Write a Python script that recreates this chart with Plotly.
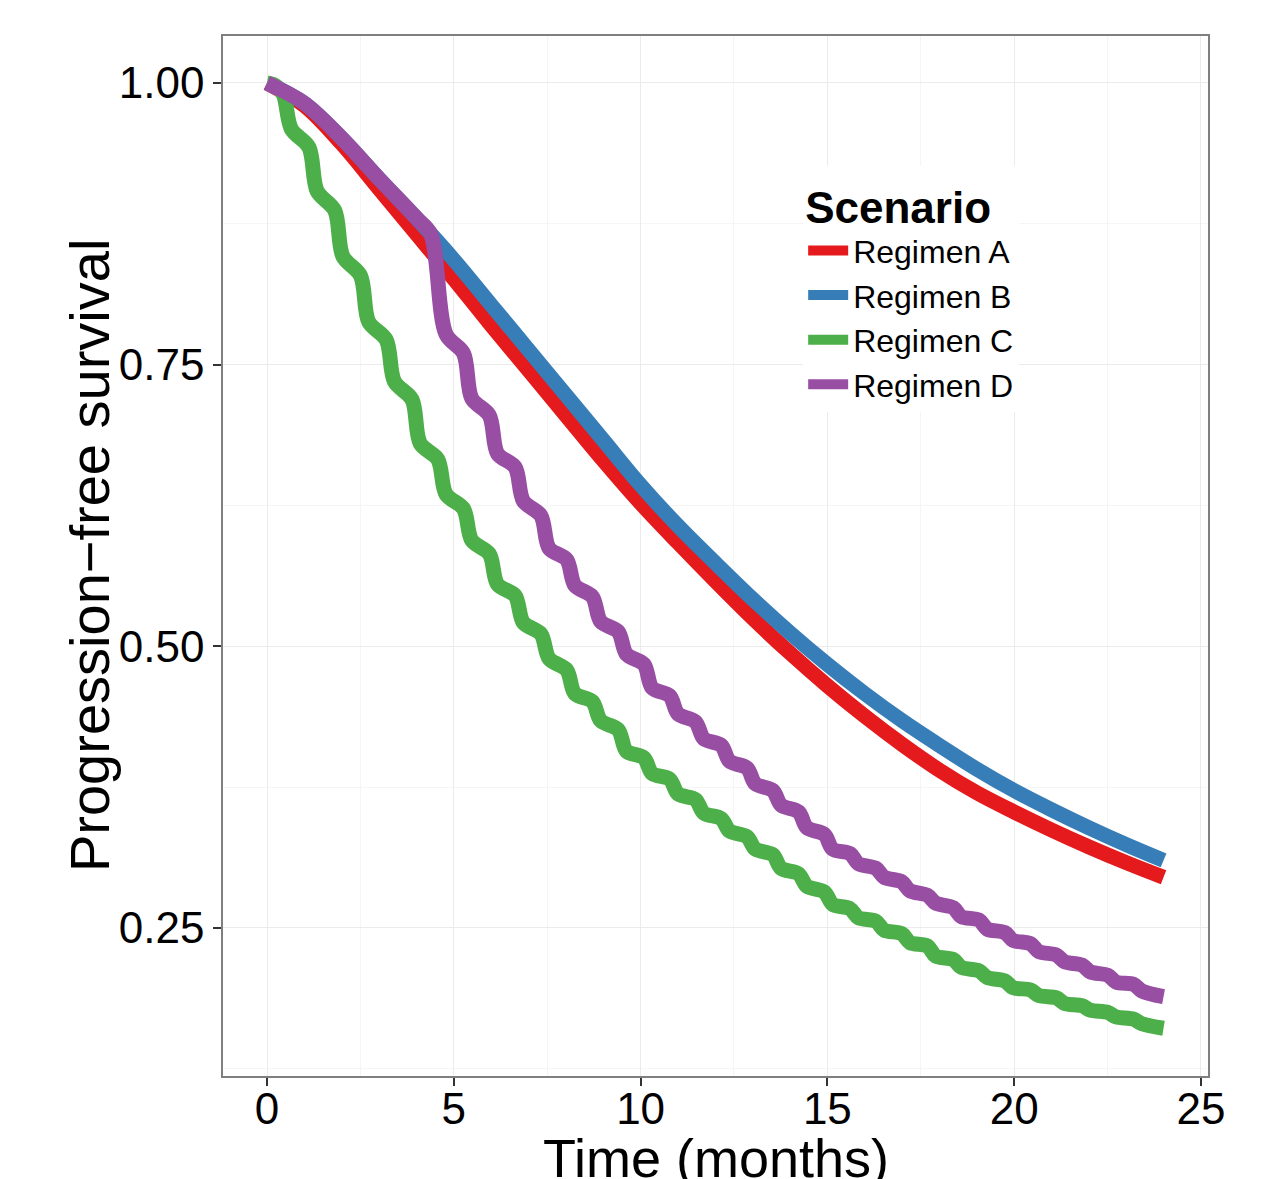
import plotly.graph_objects as go

# smooth regimens at whole months
months = [0, 1, 2, 3, 4, 5, 6, 7, 8, 9, 10, 11, 12, 13, 14, 15, 16, 17, 18, 19, 20, 21, 22, 23, 24]
regimen_a = [1.000, 0.980, 0.946, 0.906, 0.866, 0.826, 0.785, 0.745, 0.705, 0.665, 0.627, 0.592, 0.558,
             0.525, 0.494, 0.465, 0.438, 0.413, 0.390, 0.370, 0.353, 0.337, 0.322, 0.308, 0.295]
regimen_b = [1.000, 0.982, 0.951, 0.915, 0.880, 0.843, 0.803, 0.763, 0.723, 0.683, 0.643, 0.607, 0.574,
             0.542, 0.512, 0.484, 0.458, 0.434, 0.412, 0.391, 0.372, 0.355, 0.339, 0.324, 0.310]

# stepped regimens: points at the top and bottom of each cycle drop
time_c = [0, 0.2, 0.43, 0.65, 1.12, 1.34, 1.81, 2.03, 2.50, 2.72, 3.19, 3.41, 3.88, 4.10, 4.57, 4.79,
          5.26, 5.48, 5.95, 6.17, 6.64, 6.86, 7.33, 7.55, 8.02, 8.24, 8.71, 8.93, 9.40, 9.62, 10.09, 10.31,
          10.78, 11.00, 11.47, 11.69, 12.16, 12.38, 12.85, 13.07, 13.54, 13.76, 14.23, 14.45, 14.92, 15.14,
          15.61, 15.83, 16.30, 16.52, 16.99, 17.21, 17.68, 17.90, 18.37, 18.59, 19.06, 19.28, 19.75, 19.97,
          20.44, 20.66, 21.13, 21.35, 21.82, 22.04, 22.51, 22.73, 23.20, 23.42, 24.0]
regimen_c = [1.000, 0.998, 0.990, 0.959, 0.943, 0.904, 0.887, 0.846, 0.829, 0.788, 0.772, 0.735, 0.719,
             0.680, 0.666, 0.635, 0.622, 0.594, 0.582, 0.555, 0.545, 0.521, 0.511, 0.489, 0.479, 0.458,
             0.451, 0.434, 0.426, 0.407, 0.401, 0.387, 0.382, 0.369, 0.364, 0.352, 0.347, 0.336, 0.331,
             0.320, 0.315, 0.303, 0.298, 0.287, 0.282, 0.271, 0.267, 0.259, 0.256, 0.248, 0.245, 0.237,
             0.234, 0.225, 0.222, 0.215, 0.212, 0.206, 0.203, 0.197, 0.195, 0.190, 0.188, 0.183, 0.181,
             0.177, 0.175, 0.171, 0.169, 0.165, 0.161]

time_d = [0, 1, 2, 3, 4, 4.38, 4.79, 5.26, 5.48, 5.95, 6.17, 6.64, 6.86, 7.33, 7.55, 8.02, 8.24, 8.71,
          8.93, 9.40, 9.62, 10.09, 10.31, 10.78, 11.00, 11.47, 11.69, 12.16, 12.38, 12.85, 13.07, 13.54,
          13.76, 14.23, 14.45, 14.92, 15.14, 15.61, 15.83, 16.30, 16.52, 16.99, 17.21, 17.68, 17.90, 18.37,
          18.59, 19.06, 19.28, 19.75, 19.97, 20.44, 20.66, 21.13, 21.35, 21.82, 22.04, 22.51, 22.73, 23.20,
          23.42, 24.0]
regimen_d = [1.000, 0.982, 0.951, 0.915, 0.880, 0.866, 0.777, 0.760, 0.720, 0.705, 0.671, 0.659, 0.629,
             0.616, 0.587, 0.577, 0.554, 0.544, 0.522, 0.513, 0.493, 0.484, 0.463, 0.456, 0.440, 0.433,
             0.418, 0.412, 0.398, 0.392, 0.378, 0.372, 0.359, 0.353, 0.339, 0.333, 0.320, 0.316, 0.307,
             0.303, 0.295, 0.291, 0.283, 0.279, 0.272, 0.268, 0.260, 0.257, 0.249, 0.246, 0.239, 0.236,
             0.229, 0.226, 0.220, 0.217, 0.211, 0.208, 0.202, 0.200, 0.194, 0.189]

x_ticks = [0, 5, 10, 15, 20, 25]
y_ticks = [0.25, 0.50, 0.75, 1.00]

FONT = "Liberation Sans, Arial, Helvetica, sans-serif"

series = [
    ("Regimen A", months, regimen_a, "#e41a1c", 1.0),
    ("Regimen B", months, regimen_b, "#377eb8", 1.0),
    ("Regimen C", time_c, regimen_c, "#4daf4a", 0.9),
    ("Regimen D", time_d, regimen_d, "#984ea3", 0.9),
]

fig = go.Figure()
for name, t, s, colour, smooth in series:
    fig.add_trace(go.Scatter(
        x=t, y=s, name=name, mode="lines",
        line=dict(color=colour, width=15, shape="spline", smoothing=smooth),
    ))

axis_common = dict(
    showline=True, linecolor="#7f7f7f", linewidth=1.5, mirror=True,
    ticks="outside", ticklen=8, tickwidth=1.5, tickcolor="#333333",
    gridcolor="#ebebeb", gridwidth=1, zeroline=False, automargin=False,
    tickfont=dict(family=FONT, size=44, color="black"),
)

fig.update_layout(
    width=1272, height=1179,
    margin=dict(l=215, r=72, t=28, b=111),
    paper_bgcolor="white", plot_bgcolor="white",
    font=dict(family=FONT, color="black"),
    xaxis=dict(
        range=[-1.18, 25.19], tickvals=x_ticks, ticklabelstandoff=-15,
        minor=dict(dtick=2.5, tick0=0, showgrid=True, gridcolor="#f5f5f5", ticks=""),
        **axis_common,
    ),
    yaxis=dict(
        range=[0.1186, 1.0417], tickvals=y_ticks, tickformat=".2f",
        minor=dict(dtick=0.125, tick0=0, showgrid=True, gridcolor="#f5f5f5", ticks=""),
        **axis_common,
    ),
    legend=dict(
        x=0.589, y=0.875, xanchor="left", yanchor="top",
        bgcolor="white", borderwidth=0,
        title=dict(text="<b>Scenario</b>", font=dict(family=FONT, size=44)),
        font=dict(family=FONT, size=32),
        itemwidth=40, tracegroupgap=0,
    ),
    annotations=[
        dict(text="Time (months)", xref="paper", yref="paper", x=0.5, y=-0.079,
             xanchor="center", yanchor="middle", showarrow=False,
             font=dict(family=FONT, size=54, color="black")),
        dict(text="Progression\u2212free survival", xref="paper", yref="paper", x=-0.136, y=0.5,
             xanchor="center", yanchor="middle", showarrow=False, textangle=-90,
             font=dict(family=FONT, size=56, color="black")),
    ],
)

fig.write_html("out.html")
